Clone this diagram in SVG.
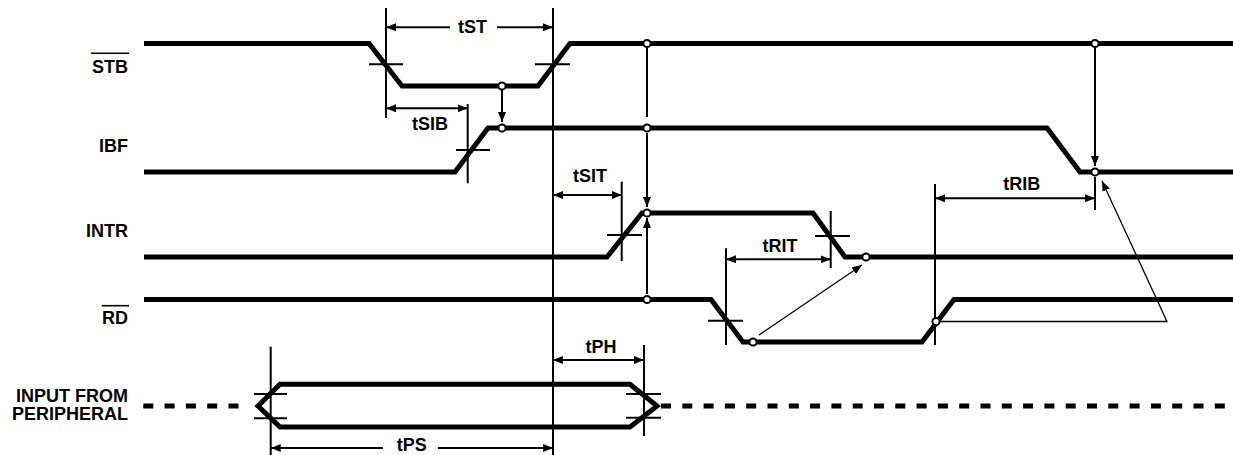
<svg xmlns="http://www.w3.org/2000/svg" width="1233" height="455" viewBox="0 0 1233 455">
<style>
.sig{fill:none;stroke:#000;stroke-width:5;stroke-linejoin:miter}
.dash{fill:none;stroke:#000;stroke-width:5;stroke-dasharray:10 11.3}
.thin{fill:none;stroke:#000;stroke-width:2}
.fine{fill:none;stroke:#000;stroke-width:1.3}
.pt{fill:#fff;stroke:#000;stroke-width:2}
.lbl{font-family:"Liberation Sans",Arial,sans-serif;font-weight:bold;font-size:18px;fill:#000;text-anchor:end}
.tl{font-family:"Liberation Sans",Arial,sans-serif;font-weight:bold;font-size:18px;fill:#000;text-anchor:middle}
.ovl{stroke:#000;stroke-width:1.6}
</style>
<defs>
<marker id="ah" markerUnits="userSpaceOnUse" markerWidth="10" markerHeight="8" refX="10" refY="4" orient="auto-start-reverse" viewBox="0 0 10 8">
<path d="M0,0 L10,4 L0,8 z" fill="#000"/>
</marker>
</defs>
<rect width="1233" height="455" fill="#fff"/>

<g id="STB">
<text class="lbl" x="128" y="72.5">STB</text>
<line class="ovl" x1="91" y1="53.3" x2="129" y2="53.3"/>
<path class="sig" d="M144,43.5 H369 L402,86 H538 L570,43.5 H1233"/>
</g>
<g id="IBF">
<text class="lbl" x="128" y="151.5">IBF</text>
<path class="sig" d="M144,172 H455 L488,128 H1047 L1080,172 H1233"/>
</g>
<g id="INTR">
<text class="lbl" x="128" y="237">INTR</text>
<path class="sig" d="M144,257 H607 L642,213 H813 L845,257 H1233"/>
</g>
<g id="RD">
<text class="lbl" x="128" y="324">RD</text>
<line class="ovl" x1="101.7" y1="305.7" x2="129" y2="305.7"/>
<path class="sig" d="M144,299.5 H711 L743,342 H922 L954,299.5 H1233"/>
</g>
<g id="INPUT">
<text class="lbl" x="128" y="401.7">INPUT FROM</text>
<text class="lbl" x="128" y="420">PERIPHERAL</text>
<path class="dash" d="M143.3,406 H242"/>
<path class="sig" d="M258,406 L280,384.3 H630 L657,406 L630,427 H280 Z"/>
<path class="dash" d="M661,406 H1233"/>
</g>

<g id="connectors">
<line class="thin" x1="386" y1="8" x2="386" y2="118"/>
<line class="thin" x1="369" y1="64.3" x2="403" y2="64.3"/>
<line class="thin" x1="553" y1="8" x2="553" y2="455"/>
<line class="thin" x1="535" y1="64.3" x2="570" y2="64.3"/>
<line class="thin" x1="467.7" y1="104" x2="467.7" y2="183.3"/>
<line class="thin" x1="456" y1="150" x2="490" y2="150"/>
<line class="thin" x1="621.7" y1="181.7" x2="621.7" y2="261"/>
<line class="thin" x1="607" y1="235" x2="642" y2="235"/>
<line class="thin" x1="830.7" y1="211" x2="830.7" y2="268"/>
<line class="thin" x1="815" y1="236" x2="850" y2="236"/>
<line class="thin" x1="726" y1="248.3" x2="726" y2="345"/>
<line class="thin" x1="708" y1="320.7" x2="743" y2="320.7"/>
<line class="thin" x1="935" y1="184" x2="935" y2="345"/>
<line class="thin" x1="270.7" y1="346.7" x2="270.7" y2="455"/>
<line class="thin" x1="254" y1="394" x2="287" y2="394"/>
<line class="thin" x1="254" y1="418.3" x2="287" y2="418.3"/>
<line class="thin" x1="644" y1="345" x2="644" y2="436"/>
<line class="thin" x1="626" y1="394" x2="661" y2="394"/>
<line class="thin" x1="626" y1="417.7" x2="661" y2="417.7"/>
<line class="thin" x1="1095" y1="177" x2="1095" y2="210"/>

<line class="thin" x1="450" y1="27.3" x2="386" y2="27.3" marker-end="url(#ah)"/>
<line class="thin" x1="497" y1="27.3" x2="553" y2="27.3" marker-end="url(#ah)"/>
<text class="tl" x="472.5" y="32.5">tST</text>
<line class="thin" x1="386" y1="108.3" x2="467.7" y2="108.3" marker-start="url(#ah)" marker-end="url(#ah)"/>
<text class="tl" x="430" y="130">tSIB</text>
<line class="thin" x1="553" y1="195" x2="621.7" y2="195" marker-start="url(#ah)" marker-end="url(#ah)"/>
<text class="tl" x="590" y="181.7">tSIT</text>
<line class="thin" x1="726" y1="259.3" x2="830.7" y2="259.3" marker-start="url(#ah)" marker-end="url(#ah)"/>
<text class="tl" x="780" y="251.7">tRIT</text>
<line class="thin" x1="935" y1="198.3" x2="1095" y2="198.3" marker-start="url(#ah)" marker-end="url(#ah)"/>
<text class="tl" x="1021.7" y="190">tRIB</text>
<line class="thin" x1="553" y1="360" x2="644" y2="360" marker-start="url(#ah)" marker-end="url(#ah)"/>
<text class="tl" x="601" y="353">tPH</text>
<line class="thin" x1="383" y1="448" x2="270.7" y2="448" marker-end="url(#ah)"/>
<line class="thin" x1="438" y1="448" x2="553" y2="448" marker-end="url(#ah)"/>
<text class="tl" x="411.7" y="450.5">tPS</text>

<line class="thin" x1="502" y1="90" x2="502" y2="122" marker-end="url(#ah)"/>
<line class="thin" x1="647" y1="48" x2="647" y2="117"/>
<line class="thin" x1="647" y1="133" x2="647" y2="207" marker-end="url(#ah)"/>
<line class="thin" x1="647" y1="294" x2="647" y2="218" marker-end="url(#ah)"/>
<line class="thin" x1="1095" y1="48" x2="1095" y2="166" marker-end="url(#ah)"/>
<line class="fine" x1="759" y1="335" x2="862" y2="265" marker-end="url(#ah)"/>
<polyline class="fine" points="939,321.5 1167,321.5 1102,181" marker-end="url(#ah)"/>
</g>

<g id="points">
<circle class="pt" cx="647" cy="43.5" r="3.6"/>
<circle class="pt" cx="1095" cy="43.5" r="3.6"/>
<circle class="pt" cx="502" cy="86" r="3.6"/>
<circle class="pt" cx="502" cy="128" r="3.6"/>
<circle class="pt" cx="647" cy="128" r="3.6"/>
<circle class="pt" cx="1095" cy="172" r="3.6"/>
<circle class="pt" cx="647" cy="213" r="3.6"/>
<circle class="pt" cx="866" cy="257" r="3.6"/>
<circle class="pt" cx="647" cy="299.5" r="3.6"/>
<circle class="pt" cx="753" cy="342" r="3.6"/>
<circle class="pt" cx="936" cy="321.5" r="3.6"/>
</g>
</svg>
